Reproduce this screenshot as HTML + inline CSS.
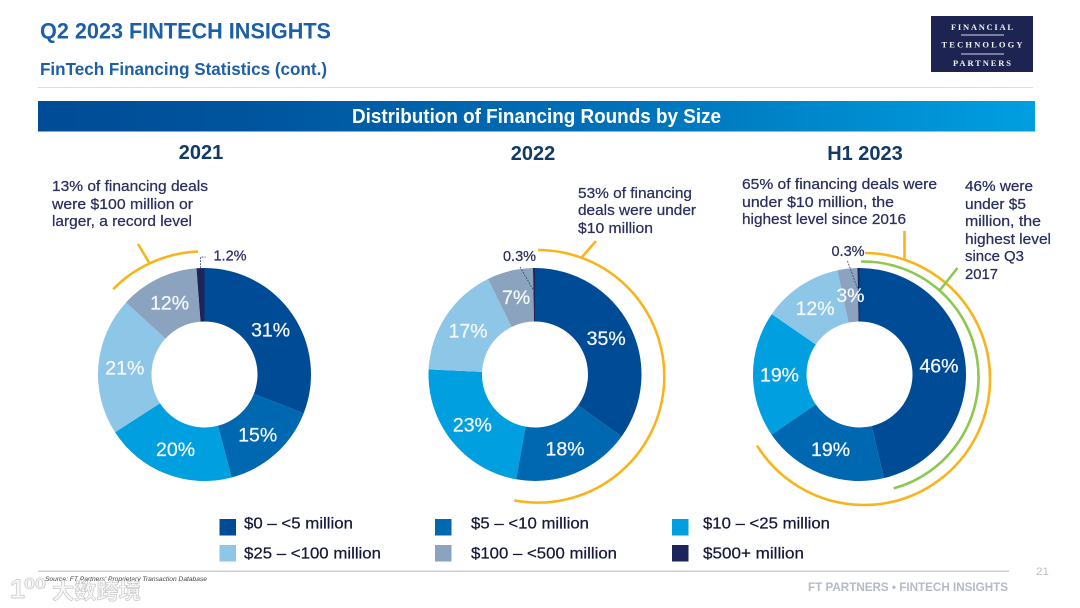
<!DOCTYPE html>
<html lang="en">
<head>
<meta charset="utf-8">
<title>Q2 2023 FinTech Insights</title>
<style>
html,body{margin:0;padding:0;background:#fff;width:1080px;height:608px;overflow:hidden}
svg{display:block;font-family:"Liberation Sans","Noto Sans CJK SC",sans-serif;filter:blur(0.35px)}
.note{font-size:15px;fill:#2b2f5f;stroke:#2b2f5f;stroke-width:0.25px}
.legend-text{font-size:16px;fill:#15193a;stroke:#15193a;stroke-width:0.25px}
.year{font-size:20px;font-weight:bold;fill:#123a66;text-anchor:middle}
.logo-text{font-family:"Liberation Serif",serif;font-weight:bold;font-size:8.5px;fill:#f2f2f2;text-anchor:middle}
</style>
</head>
<body>
<svg id="slide" width="1080" height="608" viewBox="0 0 1080 608" xmlns="http://www.w3.org/2000/svg">
<defs>
<linearGradient id="barGrad" x1="0" x2="1" y1="0" y2="0">
<stop offset="0" stop-color="#004b96"/><stop offset="0.22" stop-color="#00559f"/><stop offset="0.6" stop-color="#0073ba"/><stop offset="1" stop-color="#009fe0"/>
</linearGradient>
</defs>
<rect width="1080" height="608" fill="#fff"/>

<text x="40" y="38.5" font-size="22" font-weight="bold" fill="#1c5fa8" textLength="291" lengthAdjust="spacingAndGlyphs">Q2 2023 FINTECH INSIGHTS</text>
<text x="40" y="75" font-size="17.5" font-weight="bold" fill="#1c5fa8" textLength="287" lengthAdjust="spacingAndGlyphs">FinTech Financing Statistics (cont.)</text>
<rect x="38" y="87" width="995" height="1" fill="#dddddd"/>

<g>
<rect x="931" y="16" width="102" height="56" fill="#1d2452"/>
<text class="logo-text" x="982" y="30" textLength="62">FINANCIAL</text>
<rect x="961" y="34.5" width="43" height="1" fill="#d8d8e4"/>
<text class="logo-text" x="982" y="47.5" textLength="81">TECHNOLOGY</text>
<rect x="961" y="53.5" width="43" height="1" fill="#d8d8e4"/>
<text class="logo-text" x="982" y="66" textLength="58">PARTNERS</text>
</g>

<rect x="38" y="101" width="997" height="30.5" fill="url(#barGrad)"/>
<text x="352" y="123" font-size="20" font-weight="bold" fill="#fff" textLength="369" lengthAdjust="spacingAndGlyphs">Distribution of Financing Rounds by Size</text>

<text class="year" x="201" y="159">2021</text>
<text class="year" x="533" y="160">2022</text>
<text class="year" x="865" y="160">H1 2023</text>

<g id="charts"></g>

<g>
<text class="note" x="52" y="191" textLength="156" lengthAdjust="spacingAndGlyphs">13% of financing deals</text>
<text class="note" x="52" y="209" textLength="141" lengthAdjust="spacingAndGlyphs">were $100 million or</text>
<text class="note" x="52" y="226" textLength="140" lengthAdjust="spacingAndGlyphs">larger, a record level</text>
</g>
<g>
<text class="note" x="578" y="198" textLength="114" lengthAdjust="spacingAndGlyphs">53% of financing</text>
<text class="note" x="578" y="215" textLength="118" lengthAdjust="spacingAndGlyphs">deals were under</text>
<text class="note" x="578" y="233" textLength="75" lengthAdjust="spacingAndGlyphs">$10 million</text>
</g>
<g>
<text class="note" x="742" y="189" textLength="195" lengthAdjust="spacingAndGlyphs">65% of financing deals were</text>
<text class="note" x="742" y="207" textLength="152" lengthAdjust="spacingAndGlyphs">under $10 million, the</text>
<text class="note" x="742" y="224" textLength="164" lengthAdjust="spacingAndGlyphs">highest level since 2016</text>
</g>
<g>
<text class="note" x="965" y="191" textLength="68" lengthAdjust="spacingAndGlyphs">46% were</text>
<text class="note" x="965" y="209" textLength="61" lengthAdjust="spacingAndGlyphs">under $5</text>
<text class="note" x="965" y="226" textLength="76" lengthAdjust="spacingAndGlyphs">million, the</text>
<text class="note" x="965" y="244" textLength="86" lengthAdjust="spacingAndGlyphs">highest level</text>
<text class="note" x="965" y="261" textLength="59" lengthAdjust="spacingAndGlyphs">since Q3</text>
<text class="note" x="965" y="279" textLength="33" lengthAdjust="spacingAndGlyphs">2017</text>
</g>

<g>
<g><rect x="219.5" y="519" width="16.5" height="16.5" fill="#004b96"/><text class="legend-text" x="244" y="528.5" textLength="109" lengthAdjust="spacingAndGlyphs">$0 – &lt;5 million</text></g>
<g><rect x="435" y="519" width="16.5" height="16.5" fill="#0067b1"/><text class="legend-text" x="471" y="528.5" textLength="118" lengthAdjust="spacingAndGlyphs">$5 – &lt;10 million</text></g>
<g><rect x="672" y="519" width="16.5" height="16.5" fill="#009fdf"/><text class="legend-text" x="703" y="528.5" textLength="127" lengthAdjust="spacingAndGlyphs">$10 – &lt;25 million</text></g>
<g><rect x="219.5" y="545" width="16.5" height="16.5" fill="#8ec6e8"/><text class="legend-text" x="244" y="558.5" textLength="137" lengthAdjust="spacingAndGlyphs">$25 – &lt;100 million</text></g>
<g><rect x="435" y="545" width="16.5" height="16.5" fill="#8ba3bf"/><text class="legend-text" x="471" y="558.5" textLength="146" lengthAdjust="spacingAndGlyphs">$100 – &lt;500 million</text></g>
<g><rect x="672" y="545" width="16.5" height="16.5" fill="#1b2559"/><text class="legend-text" x="703" y="558.5" textLength="101" lengthAdjust="spacingAndGlyphs">$500+ million</text></g>
</g>

<rect x="38" y="570.5" width="971" height="1.5" fill="#cfcfcf"/>
<text x="45" y="581" font-size="6.5" font-style="italic" fill="#444" textLength="162" lengthAdjust="spacingAndGlyphs">Source: FT Partners' Proprietary Transaction Database</text>
<text x="1036" y="575" font-size="11" fill="#bcc0cc" textLength="13" lengthAdjust="spacingAndGlyphs">21</text>
<text x="808" y="591" font-size="12" font-weight="bold" fill="#b6b9c9" textLength="200" lengthAdjust="spacingAndGlyphs">FT PARTNERS • FINTECH INSIGHTS</text>

<g>
<text x="10" y="598" font-size="27" font-weight="bold" fill="#f7f7f7" stroke="#c6c6c6" stroke-width="0.7">1</text>
<text x="24" y="589" font-size="16" font-weight="bold" fill="#f7f7f7" stroke="#c6c6c6" stroke-width="0.6" textLength="22" lengthAdjust="spacingAndGlyphs">00</text>
<text x="52" y="599" font-size="22" font-weight="bold" fill="#f7f7f7" stroke="#c2c2c2" stroke-width="0.6" textLength="89" lengthAdjust="spacingAndGlyphs">大数跨境</text>
</g>

<script>
var categories = ["$0 – <5 million", "$5 – <10 million", "$10 – <25 million", "$25 – <100 million", "$100 – <500 million", "$500+ million"];
var values2021 = [31, 15, 20, 21, 12, 1.2];
var values2022 = [35, 18, 23, 17, 7, 0.3];
var valuesH12023 = [46, 19, 19, 12, 3, 0.3];
var seriesColors = ["#004b96", "#0067b1", "#009fdf", "#8ec6e8", "#8ba3bf", "#1b2559"];
var bracketShare2021 = 12;
var bracketShare2022 = 53;
var bracketShareUnder10m = 66;
var bracketShareUnder5m = 46;

var NS = "http://www.w3.org/2000/svg";
var chartRoot = document.getElementById("charts");
var OUTER_R = 106.5;
var INNER_R = 53;
var LABEL_R = 80;

function angleOf(share, total) {
  return share / total * 2 * Math.PI;
}
function polar(cx, cy, r, angle) {
  return [cx + r * Math.sin(angle), cy - r * Math.cos(angle)];
}
function ringPath(cx, cy, a0, a1) {
  var p0 = polar(cx, cy, OUTER_R, a0);
  var p1 = polar(cx, cy, OUTER_R, a1);
  var p2 = polar(cx, cy, INNER_R, a1);
  var p3 = polar(cx, cy, INNER_R, a0);
  var large = (a1 - a0) > Math.PI ? 1 : 0;
  return "M" + p0[0] + " " + p0[1] + "A" + OUTER_R + " " + OUTER_R + " 0 " + large + " 1 " + p1[0] + " " + p1[1] +
    "L" + p2[0] + " " + p2[1] + "A" + INNER_R + " " + INNER_R + " 0 " + large + " 0 " + p3[0] + " " + p3[1] + "Z";
}
function drawDonut(chartName, cx, cy, values) {
  var group = document.createElementNS(NS, "g");
  
  
  chartRoot.appendChild(group);
  var total = values.reduce(function (a, b) { return a + b; }, 0);
  var running = 0;
  var lastMid = 0;
  values.forEach(function (value, i) {
    var a0 = angleOf(running, total);
    var a1 = angleOf(running + value, total);
    running += value;
    var mid = (a0 + a1) / 2;
    lastMid = mid;
    var slice = document.createElementNS(NS, "path");
    slice.setAttribute("d", ringPath(cx, cy, a0, a1));
    slice.setAttribute("fill", seriesColors[i]);
    
    
    var tip = document.createElementNS(NS, "title");
    tip.textContent = categories[i] + ": " + value + "%";
    slice.appendChild(tip);
    group.appendChild(slice);
  });
  running = 0;
  values.forEach(function (value, i) {
    var a0 = angleOf(running, total);
    var a1 = angleOf(running + value, total);
    running += value;
    if (i === values.length - 1) { return; }
    var pos = polar(cx, cy, LABEL_R, (a0 + a1) / 2);
    var label = document.createElementNS(NS, "text");
    label.setAttribute("x", pos[0]);
    label.setAttribute("y", pos[1] + 7);
    label.setAttribute("text-anchor", "middle");
    label.setAttribute("font-size", "19.5");
    label.setAttribute("fill", "#f4f8fc");
    label.setAttribute("stroke", "#f4f8fc");
    label.setAttribute("stroke-width", "0.25");
    
    
    label.textContent = value + "%";
    group.appendChild(label);
  });
  return { group: group, mid: lastMid, last: values[values.length - 1] };
}
function drawOutsideLabel(donut, chartName, cx, cy, style) {
  var outer = polar(cx, cy, OUTER_R, donut.mid);
  var inner = polar(cx, cy, 83, donut.mid);
  var leader = document.createElementNS(NS, "path");
  var d;
  if (style.elbow) {
    d = "M" + outer[0] + " " + outer[1] + "V" + (outer[1] - 11) + "h5";
  } else {
    d = "M" + (outer[0] + style.startDx) + " " + (outer[1] + style.startDy) + "L" + inner[0] + " " + inner[1];
  }
  leader.setAttribute("d", d);
  leader.setAttribute("fill", "none");
  leader.setAttribute("stroke", "#3a3f66");
  leader.setAttribute("stroke-width", "0.8");
  leader.setAttribute("stroke-dasharray", "1.8 1.2");
  
  
  donut.group.appendChild(leader);
  var label = document.createElementNS(NS, "text");
  label.setAttribute("x", outer[0] + style.labelDx);
  label.setAttribute("y", outer[1] + style.labelDy);
  label.setAttribute("font-size", "14.5");
  label.setAttribute("fill", "#2b2f5f");
  label.setAttribute("stroke", "#2b2f5f");
  label.setAttribute("stroke-width", "0.25");
  
  
  label.textContent = donut.last + "%";
  donut.group.appendChild(label);
}
function drawBracket(name, cx, cy, r, startDeg, share, color, tick) {
  var a0 = startDeg * Math.PI / 180;
  var a1 = a0 + angleOf(share, 100);
  var p0 = polar(cx, cy, r, a0);
  var p1 = polar(cx, cy, r, a1);
  var large = share > 50 ? 1 : 0;
  var arc = document.createElementNS(NS, "path");
  arc.setAttribute("d", "M" + p0[0] + " " + p0[1] + "A" + r + " " + r + " 0 " + large + " 1 " + p1[0] + " " + p1[1] +
    "M" + tick[0] + " " + tick[1] + "L" + tick[2] + " " + tick[3]);
  arc.setAttribute("fill", "none");
  arc.setAttribute("stroke", color);
  arc.setAttribute("stroke-width", "2.6");
  
  
  chartRoot.appendChild(arc);
}

var donut2021 = drawDonut("2021", 204.5, 374.5, values2021);
var donut2022 = drawDonut("2022", 535, 374.5, values2022);
var donutH1 = drawDonut("h1-2023", 859.5, 374.5, valuesH12023);

drawOutsideLabel(donut2021, "2021", 204.5, 374.5, { elbow: true, labelDx: 13, labelDy: -7.5 });
drawOutsideLabel(donut2022, "2022", 535, 374.5, { elbow: false, startDx: -14, startDy: -1, labelDx: -31, labelDy: -7 });
drawOutsideLabel(donutH1, "h1-2023", 859.5, 374.5, { elbow: false, startDx: -11, startDy: -7, labelDx: -27, labelDy: -12 });

drawBracket("2021-100m-plus", 203, 377.5, 126, -45.5, bracketShare2021, "#f8b41c", [150, 264, 138, 244]);
drawBracket("2022-under-10m", 538, 376.3, 126.3, 0, bracketShare2022, "#f8b41c", [582, 257, 596, 241]);
drawBracket("h1-2023-under-10m", 864, 379, 126, 0.5, bracketShareUnder10m, "#f8b41c", [904.5, 259, 904.5, 231]);
drawBracket("h1-2023-under-5m", 863, 377, 115.5, -1, bracketShareUnder5m, "#8cc850", [940, 290, 957.5, 268]);
</script>
</svg>
</body>
</html>
